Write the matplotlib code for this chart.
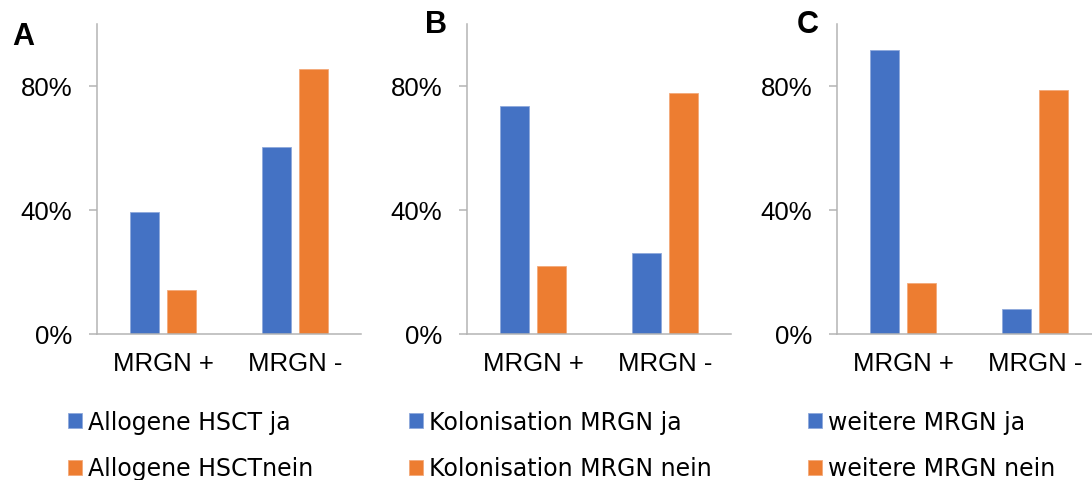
import matplotlib
matplotlib.use("Agg")
import matplotlib.pyplot as plt
import numpy as np

# Data (percent of patients)
categories = ["MRGN +", "MRGN -"]
panel_letters = ["A", "B", "C"]

hsct_ja = [39.4, 60.3]
hsct_nein = [14.2, 85.6]
kolon_ja = [73.5, 26.2]
kolon_nein = [22.0, 77.6]
weitere_ja = [91.7, 8.1]
weitere_nein = [16.4, 78.6]

labels_ja = ["Allogene HSCT ja", "Kolonisation MRGN ja", "weitere MRGN ja"]
labels_nein = ["Allogene HSCTnein", "Kolonisation MRGN nein", "weitere MRGN nein"]

y_ticks = [0, 40, 80]
y_tick_labels = ["0%", "40%", "80%"]

BLUE = "#4472C4"
ORANGE = "#ED7D31"
AXIS_GREY = "#b4b4b4"

plt.rcParams["font.family"] = ["Liberation Sans", "DejaVu Sans"]

W, H = 1092, 481
fig = plt.figure(figsize=(W / 100, H / 100), dpi=100)

series = [(hsct_ja, hsct_nein), (kolon_ja, kolon_nein), (weitere_ja, weitere_nein)]
axes_left_px = [97, 467, 837]
letter_pos = [(12, 45), (425, 33), (797, 33)]
legend_left_px = [68, 409, 808]

x = np.arange(len(categories))
bar_w = 0.22
offset = 0.142

for i, (ja, nein) in enumerate(series):
    left = axes_left_px[i]
    ax = fig.add_axes([left / W, (H - 335) / H, 264 / W, 310 / H])
    b1 = ax.bar(x - offset, ja, width=bar_w, color=BLUE,
                edgecolor="#8fa9dc", linewidth=0.6, label=labels_ja[i])
    b2 = ax.bar(x + offset, nein, width=bar_w, color=ORANGE,
                edgecolor="#f3a97a", linewidth=0.6, label=labels_nein[i])
    ax.set_xlim(-0.5, 1.5)
    ax.set_ylim(0, 100)
    ax.set_yticks(y_ticks)
    ax.set_yticklabels(y_tick_labels)
    ax.set_xticks(x)
    ax.set_xticklabels(categories)
    for s in ("top", "right"):
        ax.spines[s].set_visible(False)
    for s in ("left", "bottom"):
        ax.spines[s].set_color(AXIS_GREY)
        ax.spines[s].set_linewidth(1.1)
    ax.tick_params(axis="y", length=5.8, width=1.1, color=AXIS_GREY,
                   labelsize=18.5, pad=12, labelcolor="black")
    ax.tick_params(axis="x", length=0, labelsize=18.5, pad=12,
                   labelcolor="black")

    lx, ly = letter_pos[i]
    fig.text(lx / W, (H - ly) / H, panel_letters[i], fontsize=22,
             fontweight="bold", ha="left", va="baseline")

    leg = ax.legend(handles=[b1, b2], loc="center left",
                    bbox_to_anchor=(legend_left_px[i] / W, (H - 446) / H),
                    bbox_transform=fig.transFigure, frameon=False,
                    borderpad=0, borderaxespad=0,
                    handlelength=0.6, handleheight=0.6, handletextpad=0.25,
                    labelspacing=0.97,
                    prop={"family": "DejaVu Sans", "size": 17})

fig.savefig("out.png", dpi=100)
